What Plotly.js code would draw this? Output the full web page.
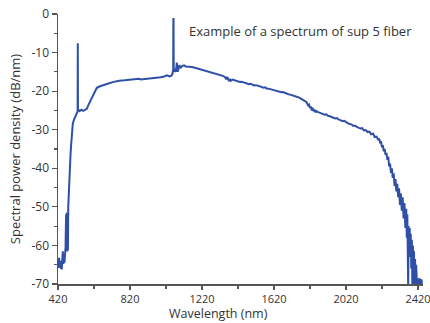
<!DOCTYPE html>
<html>
<head>
<meta charset="utf-8">
<script src="https://cdn.plot.ly/plotly-3.0.1.min.js"></script>
<style>html,body{margin:0;padding:0;background:#fff}#chart{width:430px;height:323px}</style>
</head>
<body>
<div id="chart"></div>
<script>
// Wavelength (nm)
const wavelength = [
420,423,426,429,432,435,438,441,444,447,450,453,456,459,462,465,467,469,471,473,475,477,479,481,483,486,489,492,495,498,502,508,515,522,528,529,530,531,533,540,550,560,570,580,590,600,610,620,635,650,670,700,730,760,790,820,850,870,880,900,930,960,990,1010,1025,1040,1050,1056,1060,1061,1062,1063,1066,1070,1075,1080,1085,1090,1095,1100,1110,1120,1130,1150,1170,1200,1230,1260,1290,
1300,1310,1320,1330,1340,1350,1355,1360,1365,1370,1375,1380,1390,1400,1410,1420,1430,1440,1450,1460,1470,1480,1490,1500,1510,1520,1530,1540,1550,1560,1570,1580,1590,1600,1610,1620,1630,1640,1650,1660,1670,1680,1690,1700,1710,1720,1730,1740,1750,1760,1770,1780,1790,1800,1805,1810,1815,1820,1825,1830,1835,1840,1845,1850,1855,1860,1870,1880,1890,1900,1910,1920,1930,1940,1950,1960,1970,1980,1990,2000,2010,2020,2030,2040,2050,2060,2070,2080,2090,2100,2110,2120,2130,2140,2150,2160,2170,2180,2190,2200,2205,2210,2215,2220,2225,2230,2235,2240,2245,2250,2255,2260,2265,2270,2275,2280,2285,2290,2295,2300,2305,2310,2315,2320,2325,2330,2335,2340,2345,2350,2355,2358,2361,2364,2366,2368,2371,2374,2377,2380,2383,2386,2389,2392,2395,2398,2401,2404,2407,2410,2413,2416,2420,2424,2430,2434,2440,2444
];
// Spectral power density (dB/nm)
const power = [
-64.5,-65.8,-63.2,-65.5,-64.0,-66.0,-64.8,-66.2,-63.5,-61.5,-64.8,-62.5,-64.5,-62.0,-60.5,-52.0,-57.0,-51.5,-61.5,-56.0,-61.0,-50.0,-47.0,-46.0,-43.0,-40.0,-37.0,-34.5,-31.5,-30.0,-28.5,-27.5,-26.8,-26.0,-25.5,-25.2,-7.6,-25.0,-24.8,-25.2,-24.8,-25.1,-24.9,-24.6,-23.5,-22.5,-21.5,-20.5,-19.2,-18.8,-18.4,-18.0,-17.6,-17.3,-17.2,-17.1,-17.0,-16.8,-17.0,-16.9,-16.8,-16.7,-16.4,-16.2,-15.9,-16.2,-16.0,-15.5,-14.5,-1.3,-1.3,-15.0,-14.8,-14.2,-15.0,-12.6,-15.0,-14.2,-13.2,-14.0,-13.5,-13.3,-13.6,-13.7,-13.8,-14.2,-14.6,-15.0,-15.4,
-15.5,-15.7,-15.8,-16.0,-16.1,-16.5,-16.9,-16.3,-17.0,-17.4,-16.8,-17.3,-17.0,-17.2,-17.35,-17.4,-17.6,-17.55,-17.8,-17.85,-18.0,-18.2,-18.1,-18.35,-18.5,-18.45,-18.7,-18.75,-18.9,-19.1,-19.0,-19.3,-19.35,-19.5,-19.7,-19.65,-19.9,-20.0,-20.1,-20.3,-20.25,-20.5,-20.6,-20.8,-20.9,-21.0,-21.2,-21.35,-21.5,-21.7,-21.9,-22.2,-22.5,-22.8,-23.1,-23.7,-23.5,-24.4,-24.0,-25.0,-24.3,-25.2,-24.8,-25.5,-25.0,-25.4,-25.5,-25.7,-25.8,-26.1,-26.0,-26.4,-26.5,-26.7,-26.8,-27.1,-27.0,-27.4,-27.5,-27.8,-27.7,-28.1,-28.3,-28.5,-28.6,-29.0,-28.9,-29.3,-29.5,-29.7,-29.6,-30.2,-30.1,-30.6,-30.5,-31.2,-31.0,-31.9,-31.8,-32.7,-32.3,-33.5,-33.0,-34.6,-34.0,-35.6,-35.0,-36.5,-36.0,-37.8,-37.0,-39.5,-38.8,-41.2,-40.0,-42.5,-41.3,-44.6,-42.8,-46.0,-44.0,-47.5,-45.2,-49.5,-46.5,-51.0,-47.5,-53.0,-49.0,-55.5,-50.5,-58.0,-52.0,-62.0,-72.0,-55.0,-61.0,-55.5,-63.0,-57.0,-66.0,-58.5,-72.0,-60.0,-67.0,-61.5,-72.0,-63.5,-72.0,-65.0,-72.0,-72.0,-68.5,-72.0,-68.5,-72.0,-68.8,-72.0
];
const xTickVals = [420, 820, 1220, 1620, 2020, 2420];
const yTickVals = [-70, -60, -50, -40, -30, -20, -10, 0];
const chartNote = "Example of a spectrum of sup 5 fiber";
const xTitle = "Wavelength (nm)";
const yTitle = "Spectral power density (dB/nm)";

const font = "Open Sans, Lato, sans-serif";
const trace = {
  x: wavelength, y: power, type: "scatter", mode: "lines",
  line: {color: "#3050a8", width: 2},
  hoverinfo: "skip"
};
const axisCommon = {
  showgrid: false, zeroline: false, showline: true,
  linecolor: "#555", linewidth: 1.5,
  ticks: "outside", ticklen: 5, tickwidth: 1.2, tickcolor: "#555",
  ticklabeloverflow: "allow",
  tickfont: {family: font, size: 12, color: "#333"}
};
const layout = {
  width: 430, height: 323,
  margin: {l: 58, r: 7, t: 14, b: 39},
  paper_bgcolor: "#fff", plot_bgcolor: "#fff",
  showlegend: false,
  xaxis: Object.assign({}, axisCommon, {
    range: [420, 2448], tickvals: xTickVals, ticktext: xTickVals.map(String),
    ticklen: 4,
    tickfont: {family: font, size: 11, color: "#333"},
    minor: {dtick: 200, tick0: 420, ticklen: 3, tickcolor: "#555", ticks: "outside"}
  }),
  yaxis: Object.assign({}, axisCommon, {
    range: [-70, 0], tickvals: yTickVals, ticktext: yTickVals.map(String),
    minor: {dtick: 5, tick0: 0, ticklen: 3, tickcolor: "#555", ticks: "outside"},
    title: {text: yTitle, font: {family: font, size: 13, color: "#333"}, standoff: 8}
  }),
  annotations: [
    {text: chartNote, xref: "paper", yref: "paper", x: (187-58)/365, y: (284-31)/270,
     xanchor: "left", yanchor: "middle", showarrow: false,
     font: {family: font, size: 13, color: "#333"}},
    {text: xTitle, xref: "paper", yref: "paper", x: (218-58)/365, y: (284-323)/270,
     xanchor: "center", yanchor: "bottom", showarrow: false, borderpad: 0,
     font: {family: font, size: 12.5, color: "#333"}}
  ]
};
Plotly.newPlot("chart", [trace], layout, {staticPlot: true, displayModeBar: false});
</script>
</body>
</html>
